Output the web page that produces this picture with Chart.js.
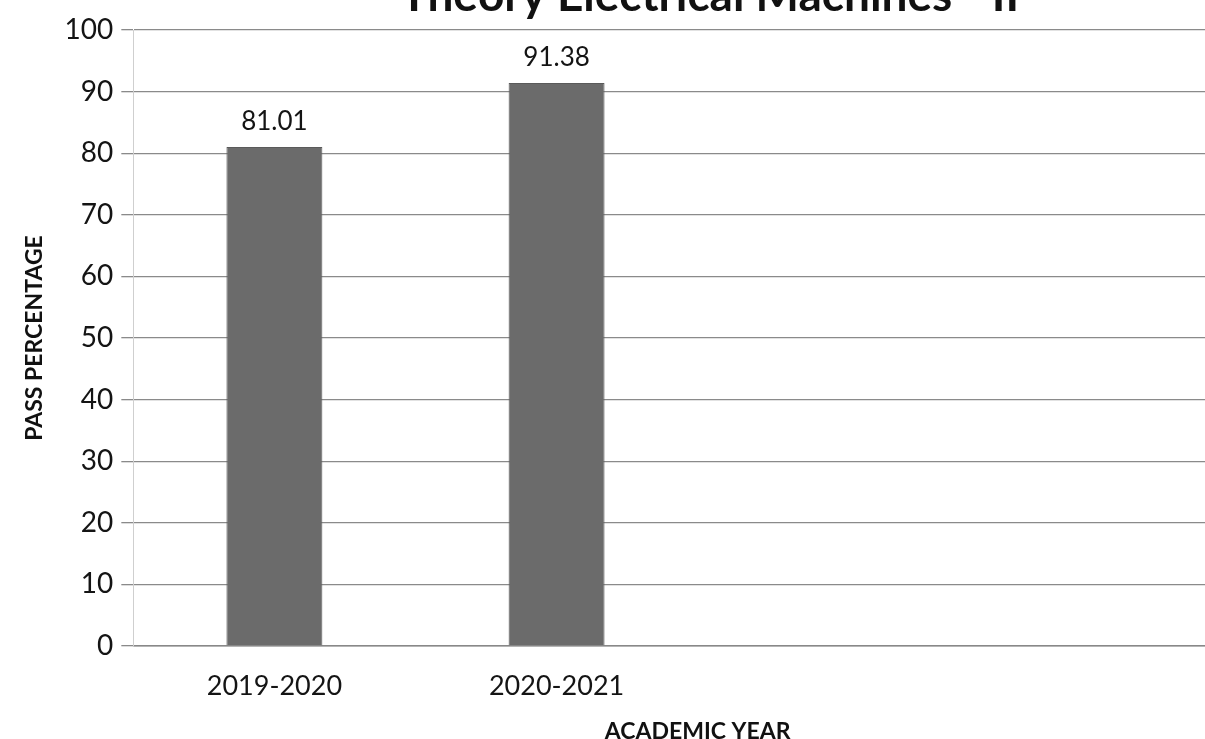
<!DOCTYPE html>
<html lang="en">
<head>
  <meta charset="UTF-8">
  <title>Pass Percentage</title>
  <script src="https://cdn.jsdelivr.net/npm/chart.js"></script>
  <style>
    html, body { margin: 0; padding: 0; background: #fff; overflow: hidden; width: 1205px; height: 739px; }
    #wrap { position: absolute; left: 0; top: 0; width: 1270px; height: 745px; }
  </style>
</head>
<body>
  <div id="wrap"><canvas id="passChart"></canvas></div>

  <script>
    // data
    const years = ['2019-2020', '2020-2021', '', ''];
    const passPct = [81.01, 91.38, null, null];
    const yTicks = [0, 10, 20, 30, 40, 50, 60, 70, 80, 90, 100];
    const chartTitle = 'Theory Electrical Machines - II';

    const FONT = 'Lato, "Open Sans", sans-serif';

    // value labels above each bar
    const valueLabels = {
      id: 'valueLabels',
      afterDatasetsDraw(chart) {
        const ctx = chart.ctx;
        const meta = chart.getDatasetMeta(0);
        ctx.save();
        ctx.font = '26px ' + FONT;
        ctx.fillStyle = '#141414';
        ctx.textAlign = 'center';
        ctx.textBaseline = 'bottom';
        meta.data.forEach((bar, i) => {
          if (passPct[i] == null) return;
          ctx.fillText(passPct[i].toFixed(2), bar.x, bar.y - 12);
        });
        ctx.restore();
      }
    };

    // title centred over the plot area, mostly cut off by the top of the scan
    const topTitle = {
      id: 'topTitle',
      afterDraw(chart) {
        const ctx = chart.ctx;
        const a = chart.chartArea;
        ctx.save();
        ctx.font = 'bold 46px ' + FONT;
        ctx.fillStyle = '#111';
        ctx.textAlign = 'center';
        ctx.textBaseline = 'alphabetic';
        ctx.fillText(chartTitle, (a.left + a.right) / 2 + 12, 11);
        ctx.restore();
      }
    };

    new Chart(document.getElementById('passChart'), {
      type: 'bar',
      data: {
        labels: years,
        datasets: [{
          data: passPct,
          backgroundColor: '#6b6b6b',
          borderColor: '#5a5a5a',
          borderWidth: 1,
          categoryPercentage: 1,
          barPercentage: 0.34
        }]
      },
      options: {
        responsive: true,
        maintainAspectRatio: false,
        animation: false,
        layout: { padding: { left: 21, right: 8, top: 30, bottom: 0 } },
        plugins: {
          legend: { display: false },
          tooltip: { enabled: false },
          title: { display: false }
        },
        scales: {
          x: {
            afterFit(scale) { scale.height = 99; },
            grid: { display: false, drawTicks: false },
            border: { display: true, color: '#888', width: 1.5 },
            ticks: { color: '#141414', font: { family: FONT, size: 27 }, padding: 24, maxRotation: 0 },
            title: {
              display: true,
              text: 'ACADEMIC YEAR',
              color: '#111',
              font: { family: FONT, size: 23, weight: 'bold' },
              padding: { top: 0, bottom: 0 }
            }
          },
          y: {
            min: 0,
            max: 100,
            afterBuildTicks(scale) { scale.ticks = yTicks.map(v => ({ value: v })); },
            grid: { color: '#8a8a8a', lineWidth: 1.3, drawTicks: true, tickLength: 12 },
            border: { display: true, color: '#cfcfcf', width: 1 },
            ticks: { color: '#141414', font: { family: FONT, size: 28 }, padding: 8 },
            title: {
              display: true,
              text: 'PASS PERCENTAGE',
              color: '#111',
              font: { family: FONT, size: 23, weight: 'bold' },
              padding: { top: 0, bottom: 8 }
            }
          }
        }
      },
      plugins: [valueLabels, topTitle]
    });
  </script>
</body>
</html>
